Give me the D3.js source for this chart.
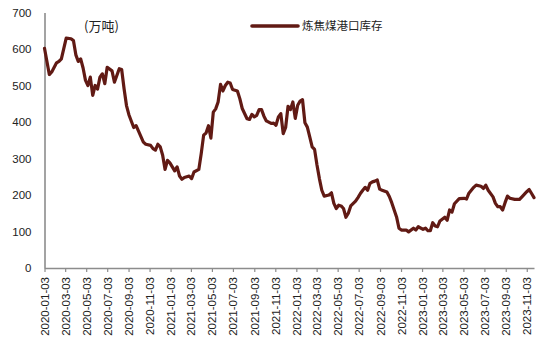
<!DOCTYPE html>
<html>
<head>
<meta charset="utf-8">
<script src="https://cdn.jsdelivr.net/npm/d3@7"></script>
<style>
  html, body { margin: 0; padding: 0; background: #fff; }
  svg { display: block; }
  text { font-family: "Liberation Sans", Arial, sans-serif; fill: #222; }
  .cjk { font-family: "Noto Sans CJK SC", "Liberation Sans", sans-serif; }
</style>
</head>
<body>
<div id="chart"></div>
<script>
// Weekly coking-coal port inventory (10k tonnes), Friday readings
const dates = [
  "2020-01-03","2020-01-17","2020-01-24","2020-02-07","2020-02-14","2020-02-21","2020-03-06","2020-03-20","2020-03-27",
  "2020-04-03","2020-04-10","2020-04-17","2020-04-24","2020-05-01","2020-05-08","2020-05-15","2020-05-22","2020-05-29",
  "2020-06-05","2020-06-12","2020-06-19","2020-06-26","2020-07-03","2020-07-17","2020-07-24","2020-08-07","2020-08-14",
  "2020-08-21","2020-08-28","2020-09-04","2020-09-18","2020-09-25","2020-10-02","2020-10-16","2020-10-23","2020-11-06",
  "2020-11-13","2020-11-20","2020-11-27","2020-12-04","2020-12-11","2020-12-18","2020-12-25","2021-01-01","2021-01-08",
  "2021-01-15","2021-01-22","2021-01-29","2021-02-05","2021-02-12","2021-02-26","2021-03-05","2021-03-12","2021-03-26",
  "2021-04-02","2021-04-09","2021-04-16","2021-04-23","2021-04-30","2021-05-07","2021-05-14","2021-05-21","2021-05-28",
  "2021-06-04","2021-06-11","2021-06-18","2021-06-25","2021-07-02","2021-07-16","2021-07-23","2021-07-30","2021-08-13",
  "2021-08-20","2021-08-27","2021-09-03","2021-09-10","2021-09-17","2021-09-24","2021-10-01","2021-10-08","2021-10-22",
  "2021-10-29","2021-11-05","2021-11-12","2021-11-19","2021-11-26","2021-12-03","2021-12-10","2021-12-17","2021-12-24",
  "2021-12-31","2022-01-07","2022-01-14","2022-01-21","2022-01-28","2022-02-04","2022-02-11","2022-02-18","2022-02-25",
  "2022-03-04","2022-03-11","2022-03-18","2022-03-25","2022-04-08","2022-04-15","2022-04-22","2022-04-29","2022-05-06",
  "2022-05-13","2022-05-20","2022-05-27","2022-06-03","2022-06-10","2022-06-24","2022-07-01","2022-07-08","2022-07-15",
  "2022-07-22","2022-07-29","2022-08-05","2022-08-12","2022-08-19","2022-08-26","2022-09-02","2022-09-09","2022-09-23",
  "2022-09-30","2022-10-07","2022-10-21","2022-10-28","2022-11-04","2022-11-18","2022-11-25","2022-12-09","2022-12-16",
  "2022-12-23","2023-01-06","2023-01-13","2023-01-20","2023-01-27","2023-02-03","2023-02-10","2023-02-17","2023-02-24",
  "2023-03-10","2023-03-17","2023-03-24","2023-03-31","2023-04-07","2023-04-21","2023-05-05","2023-05-12","2023-05-19",
  "2023-06-02","2023-06-09","2023-06-23","2023-06-30","2023-07-07","2023-07-14","2023-07-28","2023-08-04","2023-08-11",
  "2023-08-18","2023-08-25","2023-09-01","2023-09-08","2023-09-15","2023-09-29","2023-10-13","2023-10-20","2023-11-03",
  "2023-11-10","2023-11-17","2023-11-24"
];
const stock = [
  602,530,537,562,566,573,630,628,623,
  584,566,573,548,514,500,523,473,500,
  490,523,532,505,550,540,509,546,544,
  491,445,420,385,390,375,345,339,336,
  327,323,339,332,309,270,295,288,277,
  266,277,252,243,248,252,245,263,270,
  314,364,370,390,356,427,436,455,503,
  485,500,509,507,489,485,464,437,409,
  407,421,414,418,434,434,416,403,396,
  397,391,414,423,368,385,443,434,455,
  410,446,457,461,398,386,359,332,325,
  282,245,213,197,200,206,177,163,172,
  170,163,139,150,170,183,193,204,213,
  221,213,232,236,238,241,216,213,208,
  196,179,140,109,104,104,99,109,104,
  113,106,109,102,102,124,115,113,129,
  139,131,159,153,176,190,191,189,205,
  221,227,224,218,227,213,195,177,168,
  168,159,179,197,191,188,188,195,209,
  215,204,193
];
const yTicks = [0, 100, 200, 300, 400, 500, 600, 700];
const seriesName = "炼焦煤港口库存";
const unitLabel = "(万吨)";

const W = 550, H = 342;
const parse = d3.timeParse("%Y-%m-%d");
const fmt = d3.timeFormat("%Y-%m-%d");
const data = dates.map((d, i) => ({ date: parse(d), value: stock[i] }));

const x = d3.scaleTime()
  .domain([parse("2020-01-03"), parse("2023-11-24")])
  .range([44.5, 534]);
const y = d3.scaleLinear().domain([0, 700]).range([268, 12.5]);

// tick every two months on the 3rd
const xTicks = d3.timeMonth.every(2)
  .range(parse("2020-01-01"), parse("2023-12-01"))
  .map(d => new Date(d.getFullYear(), d.getMonth(), 3));

const svg = d3.select("#chart").append("svg")
  .attr("width", W).attr("height", H);

// y axis: line plus labels, no tick marks
const yAxis = svg.append("g").attr("transform", "translate(44.5,0)")
  .call(d3.axisLeft(y).tickValues(yTicks).tickSize(0).tickPadding(13).tickFormat(d3.format("d")));
yAxis.select(".domain").attr("stroke", "#8c8c8c").attr("stroke-width", 1.6);
yAxis.selectAll("text").attr("font-size", "11.5px").attr("fill", "#222")
  .style("font-family", "'Liberation Sans', Arial, sans-serif");

// x axis with rotated date labels
const xAxis = svg.append("g").attr("transform", "translate(0,268)")
  .call(d3.axisBottom(x).tickValues(xTicks).tickSize(4).tickSizeOuter(0).tickFormat(fmt));
xAxis.select(".domain").attr("stroke", "#8c8c8c").attr("stroke-width", 1.6);
xAxis.selectAll(".tick line").attr("stroke", "#8c8c8c").attr("stroke-width", 1.2);
xAxis.selectAll("text")
  .attr("font-size", "11.5px").attr("fill", "#222")
  .style("font-family", "'Liberation Sans', Arial, sans-serif")
  .attr("text-anchor", "end")
  .attr("transform", "rotate(-90)")
  .attr("x", -9).attr("y", 0).attr("dy", "0.35em");

// series line
const line = d3.line().x(d => x(d.date)).y(d => y(d.value)).curve(d3.curveLinear);
svg.append("path").datum(data)
  .attr("d", line)
  .attr("fill", "none")
  .attr("stroke", "#611a14")
  .attr("stroke-width", 3.2)
  .attr("stroke-linejoin", "round")
  .attr("stroke-linecap", "round");

// unit label
svg.append("text").attr("class", "cjk")
  .attr("x", 84).attr("y", 26).attr("dy", "0.35em")
  .attr("font-size", "13px").text(unitLabel);

// legend
svg.append("line")
  .attr("x1", 252).attr("x2", 298).attr("y1", 26).attr("y2", 26)
  .attr("stroke", "#611a14").attr("stroke-width", 3.6).attr("stroke-linecap", "round");
svg.append("text").attr("class", "cjk")
  .attr("x", 302).attr("y", 26).attr("dy", "0.35em")
  .attr("font-size", "11.5px").text(seriesName);
</script>
</body>
</html>
